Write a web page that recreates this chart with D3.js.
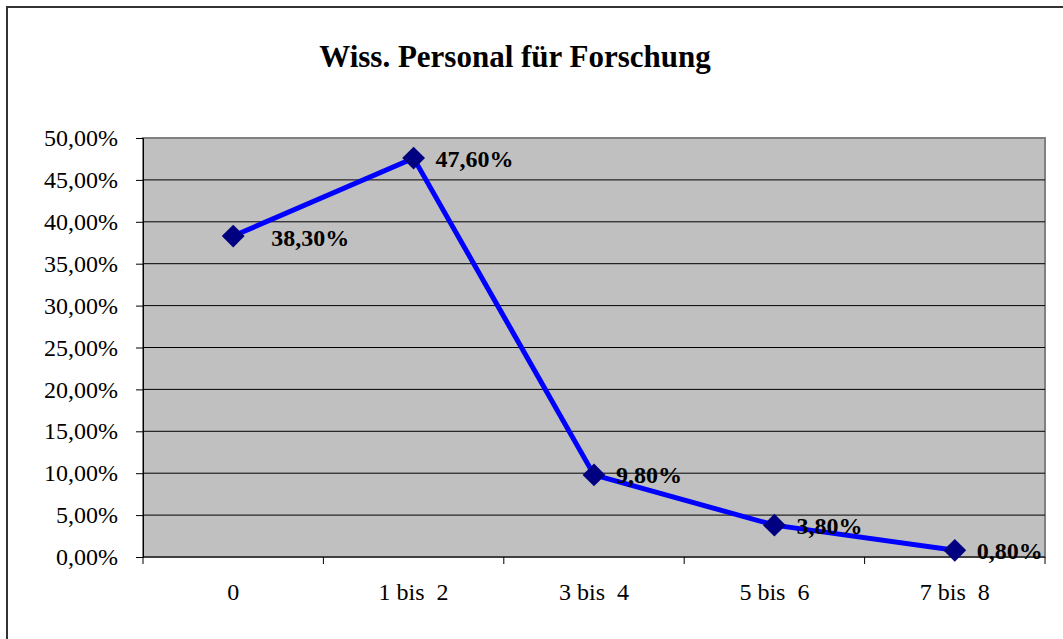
<!DOCTYPE html>
<html>
<head>
<meta charset="utf-8">
<script src="https://cdn.jsdelivr.net/npm/d3@7"></script>
<style>
  body { margin: 0; background: #fff; }
  text { font-family: "Liberation Serif", "Times New Roman", serif; white-space: pre; }
</style>
</head>
<body>
<div id="chart"></div>
<script>
var categories = ["0", "1 bis  2", "3 bis  4", "5 bis  6", "7 bis  8"];
var values = [38.3, 47.6, 9.8, 3.8, 0.8];
var yTicks = [0, 5, 10, 15, 20, 25, 30, 35, 40, 45, 50];
var chartTitle = "Wiss. Personal für Forschung";

var W = 1063, H = 639;
var margin = { top: 138, right: 18, bottom: 82, left: 143 },
  width = W - margin.left - margin.right,
  height = H - margin.top - margin.bottom;

var fmt = function (v) { return v.toFixed(2).replace(".", ",") + "%"; };

var svg = d3.select("#chart").append("svg")
  .attr("width", W)
  .attr("height", H);

// outer chart border (cut off at right and bottom)
svg.append("path")
  .attr("d", "M7,640 L7,7 L1070,7")
  .attr("fill", "none")
  .attr("stroke", "#333")
  .attr("stroke-width", 2);

svg.append("text")
  .attr("x", 515)
  .attr("y", 67)
  .attr("text-anchor", "middle")
  .style("font-size", "31px")
  .style("font-weight", "bold")
  .text(chartTitle);

var g = svg.append("g")
  .attr("transform", "translate(" + margin.left + "," + margin.top + ")");

var x = d3.scaleBand()
  .domain(categories)
  .range([0, width]);

var y = d3.scaleLinear()
  .domain([0, 50])
  .range([height, 0]);

// plot background
g.append("rect")
  .attr("width", width)
  .attr("height", height)
  .attr("fill", "#c0c0c0")
  .attr("stroke", "#808080")
  .attr("stroke-width", 2);

// gridlines
g.selectAll(".grid")
  .data(yTicks.slice(1, -1))
  .enter().append("line")
  .attr("class", "grid")
  .attr("x1", 0)
  .attr("x2", width)
  .attr("y1", function (d) { return y(d); })
  .attr("y2", function (d) { return y(d); })
  .attr("stroke", "#000")
  .attr("stroke-width", 1);

// y axis
var yAxis = d3.axisLeft(y)
  .tickValues(yTicks)
  .tickSize(7)
  .tickPadding(18)
  .tickFormat(fmt);

var yg = g.append("g").call(yAxis);
yg.select(".domain").attr("stroke", "#000");
yg.selectAll("text").style("font-size", "24px").attr("fill", "#000");

// x axis with ticks at category boundaries
var xg = g.append("g")
  .attr("transform", "translate(0," + height + ")");

xg.append("line")
  .attr("x1", 0).attr("x2", width)
  .attr("stroke", "#000");

xg.selectAll(".xtick")
  .data(categories.concat(["end"]))
  .enter().append("line")
  .attr("class", "xtick")
  .attr("x1", function (d, i) { return i * x.bandwidth(); })
  .attr("x2", function (d, i) { return i * x.bandwidth(); })
  .attr("y1", 0)
  .attr("y2", 7)
  .attr("stroke", "#000");

xg.selectAll(".xlabel")
  .data(categories)
  .enter().append("text")
  .attr("class", "xlabel")
  .attr("x", function (d) { return x(d) + x.bandwidth() / 2; })
  .attr("y", 43)
  .attr("text-anchor", "middle")
  .style("font-size", "24px")
  .text(function (d) { return d; });

// line
var line = d3.line()
  .x(function (d, i) { return x(categories[i]) + x.bandwidth() / 2; })
  .y(function (d) { return y(d); });

g.append("path")
  .datum(values)
  .attr("d", line)
  .attr("fill", "none")
  .attr("stroke", "#0000ff")
  .attr("stroke-width", 5);

// markers
g.selectAll(".marker")
  .data(values)
  .enter().append("path")
  .attr("class", "marker")
  .attr("d", d3.symbol().type(d3.symbolSquare).size(260))
  .attr("transform", function (d, i) {
    return "translate(" + (x(categories[i]) + x.bandwidth() / 2) + "," + y(d) + ") rotate(45)";
  })
  .attr("fill", "#000080");

// data labels
g.selectAll(".label")
  .data(values)
  .enter().append("text")
  .attr("class", "label")
  .attr("x", function (d, i) { return x(categories[i]) + x.bandwidth() / 2 + (i === 0 ? 38 : 22); })
  .attr("y", function (d, i) { return y(d) + (i === 0 ? 2 : 0); })
  .attr("dy", "0.35em")
  .style("font-size", "24px")
  .style("font-weight", "bold")
  .text(function (d) { return d.toFixed(2).replace(".", ",") + "%"; });
</script>
</body>
</html>
